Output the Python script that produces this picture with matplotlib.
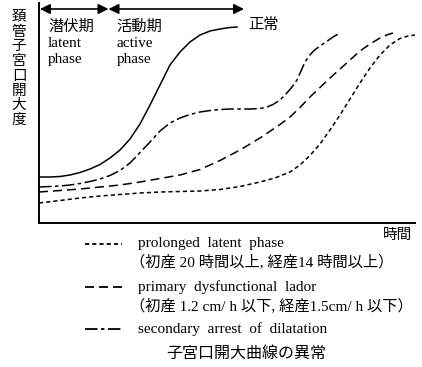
import matplotlib
matplotlib.use("Agg")
import matplotlib.pyplot as plt
from matplotlib.lines import Line2D

plt.rcParams['font.family'] = ['Liberation Serif', 'Noto Sans CJK JP', 'DejaVu Sans']
plt.rcParams['lines.scale_dashes'] = False

W, H = 422, 367

# schematic: time vs cervical dilation, arbitrary units
normal_x = [0, 11, 21, 31, 41, 51, 61, 71, 81, 91, 101, 111, 121, 131, 141, 151, 161, 171, 181, 191, 198]
normal_y = [46, 46, 46.5, 48, 50.5, 54, 58.5, 65, 73, 84, 99, 118, 138, 158, 171, 181, 188, 192, 194, 195.5, 196]

arrest_x = [0, 11, 21, 31, 41, 51, 61, 71, 81, 91, 101, 111, 121, 131, 141, 151, 161, 171, 181,
            191, 201, 211, 221, 228, 234, 241, 247, 253, 258, 262, 266, 270, 275, 281, 287, 294, 301]
arrest_y = [36, 36.5, 37, 38, 39.5, 41.5, 44, 47.5, 52.5, 60, 70.5, 81, 92, 100, 105, 108.5, 111,
            112.5, 113.5, 114, 114, 114, 114.5, 116, 118.5, 123, 129, 136, 143, 152, 161, 167,
            172.5, 177, 181, 186, 190]

primary_x = [0, 21, 41, 61, 81, 101, 121, 141, 161, 181, 201, 221, 241, 251, 261, 271, 281, 291,
             301, 311, 321, 331, 341, 349, 354]
primary_y = [31, 32.5, 34, 36, 38, 41, 44.5, 48, 53.5, 62.5, 73, 85, 98.5, 106, 115.5, 126, 135.5,
             145, 154, 163, 172, 179, 185, 188.5, 190]

latent_x = [0, 21, 41, 61, 81, 101, 121, 141, 161, 181, 201, 221, 236, 251, 261, 271, 281, 291,
            301, 311, 321, 331, 341, 351, 361, 369, 376]
latent_y = [20, 22.5, 25, 27, 28.5, 30, 31, 31.5, 32, 33.5, 36.5, 41, 45, 51, 58, 67.5, 79, 93,
            108, 124, 140, 155, 168, 178, 184.5, 187, 188]

phase_bounds = [1, 69.5, 205]
phase_labels = ['潜伏期\nlatent\nphase', '活動期\nactive\nphase']

ylabel = '頚管子宮口開大度'
xlabel = '時間'
legend_texts = [
    ('prolonged  latent  phase', '（初産 20 時間以上, 経産14 時間以上）'),
    ('primary  dysfunctional  lador', '（初産 1.2 cm/ h 以下, 経産1.5cm/ h 以下）'),
    ('secondary  arrest  of  dilatation', None),
]
title = '子宮口開大曲線の異常'

dotted = (0, (3, 2.2))
dashed = (0, (6.5, 3.6))
dashdot = (0, (9, 2.5, 2.5, 2.5))
styles = [dotted, dashed, dashdot]

fig = plt.figure(figsize=(W / 100, H / 100), dpi=100)
ax = fig.add_axes([39 / W, 1 - 223 / H, (415 - 39) / W, (223 - 3) / H])

ax.plot(normal_x, normal_y, color='black', lw=1.1)
ax.plot(arrest_x, arrest_y, color='black', lw=1.1, linestyle=dashdot)
ax.plot(primary_x, primary_y, color='black', lw=1.1, linestyle=dashed)
ax.plot(latent_x, latent_y, color='black', lw=1.1, linestyle=dotted)

ax.set_xlim(0, 376)
ax.set_ylim(0, 220)
for s in ['top', 'right']:
    ax.spines[s].set_visible(False)
for s in ['left', 'bottom']:
    ax.spines[s].set_linewidth(1.4)
ax.set_xticks([])
ax.set_yticks([])

# phase arrows
for a, b in zip(phase_bounds[:-1], phase_bounds[1:]):
    ax.annotate('', xy=(a, 214), xytext=(b, 214),
                arrowprops=dict(arrowstyle='<|-|>', color='black', lw=1.2,
                                mutation_scale=15, shrinkA=0, shrinkB=0))
for a, lab in zip(phase_bounds[:-1], phase_labels):
    ax.text(a + 8, 203, lab, fontsize=11, va='top', ha='left', linespacing=1.3)
ax.text(209, 198, '正常', fontsize=11, va='center', ha='left')

def px(x, y):
    return x / W, 1 - y / H

fig.text(*px(19, 69), '\n'.join(ylabel), fontsize=10.5, ha='center', va='center',
         linespacing=1.17)
fig.text(*px(398, 235), xlabel, fontsize=10.5, ha='center', va='center')

rows = [(244, 262), (287, 306), (329, None)]
for (y1, y2), (t1, t2), ls in zip(rows, legend_texts, styles):
    fig.add_artist(Line2D([85 / W, 122 / W], [1 - y1 / H] * 2, color='black',
                          lw=1.3, linestyle=ls, transform=fig.transFigure))
    fig.text(*px(138, y1), t1, fontsize=11, ha='left', va='center')
    if t2:
        fig.text(*px(130, y2), t2, fontsize=11, ha='left', va='center')

fig.text(*px(246, 353), title, fontsize=11.5, ha='center', va='center',
         family=['Noto Sans CJK JP', 'DejaVu Sans'])

fig.savefig('out.png', dpi=100)
